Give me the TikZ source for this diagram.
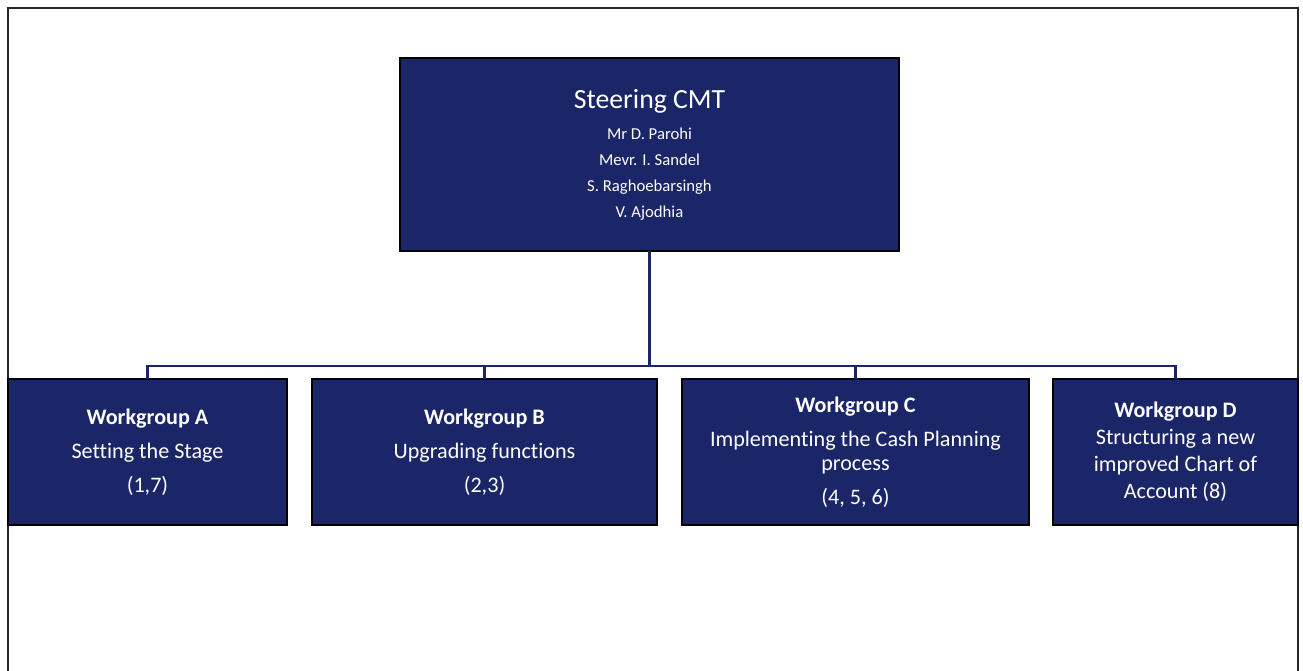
\documentclass[tikz,border=0pt]{standalone}
\usepackage{fontspec}
\setmainfont{Carlito}[Ligatures=NoCommon]
\usepackage{tikz}
\usetikzlibrary{positioning, calc}
\definecolor{navy}{RGB}{27,38,105}

\begin{document}
\begin{tikzpicture}[
    box/.style={draw=black,line width=1pt,fill=navy,text=white,align=center,inner sep=0pt,outer sep=0pt},
    group/.style={box,minimum height=2.92cm,font=\fontsize{12.6}{13.7}\selectfont},
    link/.style={navy,line width=1.2pt}]
        \useasboundingbox (0,0) rectangle (26.06,13.42);
        % frame, open at the bottom
        \draw[line width=1pt,black!85] (0.16,0)--(0.16,13.26)--(25.96,13.26)--(25.96,0);
        \node[box,minimum width=9.98cm,minimum height=3.86cm,
            font=\fontsize{9.5}{14.8}\selectfont] (steer) at (12.99,10.33)
            {{\fontsize{15.8}{20}\selectfont Steering CMT}\\[2.8pt]
             Mr D. Parohi\\ Mevr. I. Sandel\\ S. Raghoebarsingh\\ V. Ajodhia};
        \node[group,minimum width=5.58cm] (wgA) at (2.95,4.38)
            {\textbf{Workgroup A}\\[5.7pt] Setting the Stage\\[5.7pt] (1,7)};
        \node[group,minimum width=6.9cm,right=0.5cm of wgA] (wgB)
            {\textbf{Workgroup B}\\[5.7pt] Upgrading functions\\[5.7pt] (2,3)};
        \node[group,minimum width=6.94cm,right=0.5cm of wgB] (wgC)
            {\textbf{Workgroup C}\\[5.7pt] Implementing the Cash Planning\\ process\\[5.7pt] (4, 5, 6)};
        \node[group,minimum width=4.9cm,right=0.48cm of wgC] (wgD)
            {\textbf{Workgroup D}\\[1.7pt] Structuring a new\\[1.7pt] improved Chart of\\[1.7pt] Account (8)};
        % connectors
        \coordinate (bus) at (0,6.1);
        \draw[link] (steer.south) -- (steer.south |- bus);
        \draw[link] (wgA.north) -- (wgA.north |- bus) -| (wgD.north);
        \draw[link] (wgB.north) -- (wgB.north |- bus);
        \draw[link] (wgC.north) -- (wgC.north |- bus);
    \end{tikzpicture}
\end{document}
